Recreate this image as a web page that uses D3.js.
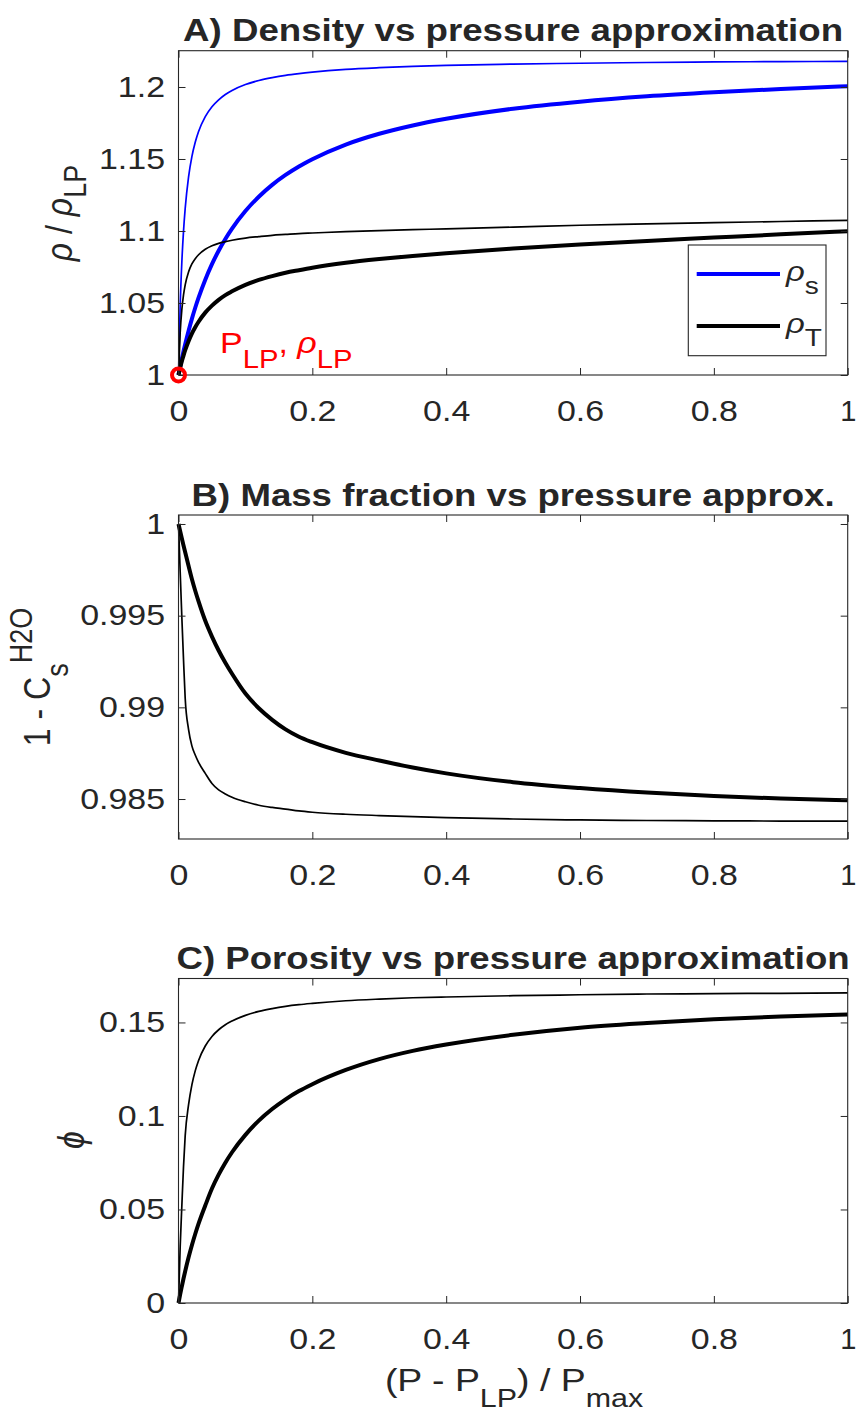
<!DOCTYPE html>
<html>
<head>
<meta charset="utf-8">
<script src="https://cdn.jsdelivr.net/npm/d3@7"></script>
<style>
  body { margin: 0; background: #fff; }
  svg text { font-family: "Liberation Sans", Arial, sans-serif; fill: #262626; }
</style>
</head>
<body>
<div class="chart"></div>
<script>
// x positions shared by every curve, (P - P_LP) / P_max
var xVals = [0, 0.0025, 0.005, 0.0075, 0.01, 0.015, 0.02, 0.025, 0.03, 0.04, 0.05, 0.06, 0.07, 0.08, 0.1,
  0.12, 0.14, 0.16, 0.18, 0.2, 0.25, 0.3, 0.35, 0.4, 0.5, 0.6, 0.7, 0.8, 0.9, 1.0];
var xTicks = [0, 0.2, 0.4, 0.6, 0.8, 1];

// A) density
var rhoS1 = [1, 1.048, 1.0785, 1.0999, 1.1157, 1.1374, 1.1516, 1.1616, 1.1691, 1.1794, 1.1863, 1.1911, 1.1948, 1.1976, 1.2017,
  1.2045, 1.2065, 1.2081, 1.2093, 1.2103, 1.2122, 1.2134, 1.2143, 1.2150, 1.2159, 1.2165, 1.2170, 1.2174, 1.2176, 1.2178];
var rhoS2 = [1, 1.0058, 1.0113, 1.0165, 1.0214, 1.0306, 1.0390, 1.0467, 1.0537, 1.0662, 1.0770, 1.0863, 1.0945, 1.1017, 1.1139,
  1.1238, 1.1320, 1.1389, 1.1448, 1.1498, 1.1600, 1.1675, 1.1733, 1.1779, 1.1849, 1.1898, 1.1935, 1.1963, 1.1986, 1.2005];
var rhoT1 = [1, 1.0294, 1.0455, 1.0556, 1.0626, 1.0715, 1.0771, 1.0808, 1.0835, 1.0873, 1.0897, 1.0914, 1.0926, 1.0936, 1.0951,
  1.0961, 1.0970, 1.0976, 1.0982, 1.0986, 1.0996, 1.1003, 1.1009, 1.1015, 1.1027, 1.1040, 1.1049, 1.1058, 1.1066, 1.1074];
var rhoT2 = [1, 1.0050, 1.0096, 1.0135, 1.0172, 1.0235, 1.0288, 1.0332, 1.0370, 1.0433, 1.0482, 1.0522, 1.0555, 1.0581, 1.0626,
  1.0660, 1.0687, 1.0710, 1.0728, 1.0745, 1.0779, 1.0805, 1.0827, 1.0846, 1.0878, 1.0906, 1.0931, 1.0954, 1.0977, 1.0998];
var yTicksA = [1, 1.05, 1.1, 1.15, 1.2];

// B) mass fraction
var mass1 = [1, 0.9974, 0.9949, 0.9926, 0.9905, 0.9888, 0.9879, 0.9874, 0.9870, 0.9864, 0.98585, 0.98550, 0.98528, 0.98510, 0.98485,
  0.98466, 0.98454, 0.98445, 0.98435, 0.98428, 0.98417, 0.98410, 0.98404, 0.98399, 0.98391, 0.98386, 0.98383, 0.98381, 0.98380, 0.98379];
var mass2 = [1, 0.99960, 0.99921, 0.99883, 0.99846, 0.99772, 0.99700, 0.99636, 0.99578, 0.99472, 0.99386, 0.99310, 0.99243, 0.99183, 0.99075,
  0.98995, 0.98932, 0.98880, 0.98840, 0.98810, 0.98752, 0.98710, 0.98672, 0.98640, 0.98592, 0.98560, 0.98535, 0.98516, 0.98503, 0.98493];
var yTicksB = [0.985, 0.99, 0.995, 1];

// C) porosity
var phi1 = [0, 0.030, 0.052, 0.073, 0.0895, 0.1059, 0.1166, 0.1241, 0.1297, 0.1374, 0.1425, 0.1461, 0.1488, 0.1508, 0.1538,
  0.1559, 0.1574, 0.1586, 0.1595, 0.1602, 0.1616, 0.1625, 0.1632, 0.1636, 0.1643, 0.1648, 0.1652, 0.1654, 0.1656, 0.1658];
var phi2 = [0, 0.0046, 0.0089, 0.0131, 0.0170, 0.0243, 0.0309, 0.0369, 0.0424, 0.0521, 0.0612, 0.0686, 0.0750, 0.0806, 0.0899,
  0.0975, 0.1037, 0.1089, 0.1133, 0.1170, 0.1246, 0.1304, 0.1348, 0.1382, 0.1434, 0.1472, 0.1497, 0.1517, 0.1532, 0.1543];
var yTicksC = [0, 0.05, 0.1, 0.15];

var svgWidth = 856;
var svgHeight = 1416;
var axLeft = 178.5, axRight = 847.7;
var stretch = 1.17;   // the picture is a bit wider than the font
var blue = "#0000ff";
var ink = "#262626";

var svg = d3.select(".chart")
  .append("svg")
  .attr("width", svgWidth)
  .attr("height", svgHeight);

var xScale = d3.scaleLinear().domain([0, 1]).range([axLeft, axRight]);
var fmt = d => String(+d.toFixed(4));

function drawPanel(p) {
  var yScale = d3.scaleLinear().domain(p.domain).range([p.bottom, p.top]);
  var g = svg.append("g");

  // curves
  var line = d3.line()
    .x((d, i) => xScale(xVals[i]))
    .y(d => yScale(d))
    .curve(d3.curveMonotoneX);

  p.series.forEach(function(s) {
    g.append("path")
      .attr("d", line(s.values))
      .attr("fill", "none")
      .attr("stroke", s.color)
      .attr("stroke-width", s.width)
      .attr("stroke-linejoin", "round");
  });

  // axes, ticks inside the box
  var bottomAxis = d3.axisBottom(xScale).tickValues(xTicks).tickFormat(fmt)
    .tickSizeInner(-7).tickSizeOuter(0).tickPadding(25);
  var topAxis = d3.axisTop(xScale).tickValues(xTicks).tickFormat("")
    .tickSizeInner(-7).tickSizeOuter(0);
  var leftAxis = d3.axisLeft(yScale).tickValues(p.ticks).tickFormat(fmt)
    .tickSizeInner(-7).tickSizeOuter(0).tickPadding(13.5);
  var rightAxis = d3.axisRight(yScale).tickValues(p.ticks).tickFormat("")
    .tickSizeInner(-7).tickSizeOuter(0);

  var gb = g.append("g").attr("transform", `translate(0, ${p.bottom})`).call(bottomAxis);
  var gt = g.append("g").attr("transform", `translate(0, ${p.top})`).call(topAxis);
  var gl = g.append("g").attr("transform", `translate(${axLeft}, 0)`).call(leftAxis);
  var gr = g.append("g").attr("transform", `translate(${axRight}, 0)`).call(rightAxis);

  [gb, gt, gl, gr].forEach(function(a) {
    a.select(".domain").remove();
    a.selectAll("line").attr("stroke", ink);
    a.selectAll("text").attr("font-size", 29).attr("fill", ink)
      .attr("font-family", '"Liberation Sans", Arial, sans-serif');
  });
  // stretch the labels like the picture, but keep the last "1" inside the page
  gb.selectAll("text").attr("transform", d => d === 1 ? null : `scale(${stretch},1)`);
  gl.selectAll("text").attr("x", -13.5 / stretch).attr("transform", `scale(${stretch},1)`);

  g.append("rect")
    .attr("x", axLeft).attr("y", p.top)
    .attr("width", axRight - axLeft).attr("height", p.bottom - p.top)
    .attr("fill", "none").attr("stroke", ink).attr("stroke-width", 1.1);

  // title
  g.append("text")
    .attr("x", (axLeft + axRight) / 2)
    .attr("y", p.top - 9.5)
    .attr("text-anchor", "middle")
    .attr("font-size", 31)
    .attr("font-weight", "bold")
    .attr("fill", "#000")
    .attr("textLength", p.titleWidth)
    .attr("lengthAdjust", "spacingAndGlyphs")
    .text(p.title);

  return { g: g, y: yScale };
}

// ---------- A ----------
var A = drawPanel({
  top: 50.7, bottom: 375, domain: [1, 1.2252], ticks: yTicksA,
  title: "A) Density vs pressure approximation", titleWidth: 660,
  series: [
    { values: rhoS1, color: blue, width: 1.7 },
    { values: rhoS2, color: blue, width: 4 },
    { values: rhoT1, color: "#000", width: 1.7 },
    { values: rhoT2, color: "#000", width: 4 }
  ]
});

// y label  rho / rho_LP
var ylA = svg.append("text")
  .attr("transform", `translate(72, 213) rotate(-90) scale(1, ${stretch})`)
  .attr("text-anchor", "middle")
  .attr("font-size", 32);
ylA.append("tspan").attr("font-style", "italic").text("ρ");
ylA.append("tspan").text(" / ");
ylA.append("tspan").attr("font-style", "italic").text("ρ");
ylA.append("tspan").attr("font-size", 27).attr("dy", 12).text("LP");

// legend
var leg = svg.append("g");
leg.append("rect")
  .attr("x", 688.3).attr("y", 245).attr("width", 137.7).attr("height", 110.7)
  .attr("fill", "#fff").attr("stroke", ink).attr("stroke-width", 1.1);
[{ c: blue, y: 274, sub: "s" }, { c: "#000", y: 326, sub: "T" }].forEach(function(e) {
  leg.append("line")
    .attr("x1", 696.7).attr("x2", 780).attr("y1", e.y).attr("y2", e.y)
    .attr("stroke", e.c).attr("stroke-width", 4);
  var t = leg.append("text")
    .attr("transform", `translate(786, ${e.y + 7}) scale(${stretch},1)`)
    .attr("font-size", 28);
  t.append("tspan").attr("font-style", "italic").text("ρ");
  t.append("tspan").attr("font-size", 24).attr("dy", 13).text(e.sub);
});

// red marker at (P_LP, rho_LP)
A.g.append("circle")
  .attr("cx", xScale(0)).attr("cy", A.y(1)).attr("r", 6.5)
  .attr("fill", "none").attr("stroke", "#ff0000").attr("stroke-width", 4);
var ann = A.g.append("text")
  .attr("transform", `translate(220, 353) scale(${stretch},1)`)
  .attr("font-size", 29)
  .style("fill", "#ff0000");
ann.append("tspan").text("P");
ann.append("tspan").attr("font-size", 25).attr("dy", 15).text("LP");
ann.append("tspan").attr("dy", -15).text(", ");
ann.append("tspan").attr("font-style", "italic").text("ρ");
ann.append("tspan").attr("font-size", 25).attr("dy", 15).text("LP");

// ---------- B ----------
drawPanel({
  top: 515, bottom: 839, domain: [0.98282, 1.00049], ticks: yTicksB,
  title: "B) Mass fraction vs pressure approx.", titleWidth: 643,
  series: [
    { values: mass1, color: "#000", width: 1.7 },
    { values: mass2, color: "#000", width: 4 }
  ]
});

var ylB = svg.append("text")
  .attr("transform", `translate(50, 677) rotate(-90) scale(1, ${stretch})`)
  .attr("text-anchor", "middle")
  .attr("font-size", 32);
ylB.append("tspan").text("1 - C");
ylB.append("tspan").attr("font-size", 27).attr("dy", 15).text("s");
ylB.append("tspan").attr("font-size", 27).attr("dy", -30).text("H2O");

// ---------- C ----------
drawPanel({
  top: 978.5, bottom: 1303, domain: [0, 0.1735], ticks: yTicksC,
  title: "C) Porosity vs pressure approximation", titleWidth: 673,
  series: [
    { values: phi1, color: "#000", width: 1.7 },
    { values: phi2, color: "#000", width: 4 }
  ]
});

svg.append("text")
  .attr("transform", `translate(84, 1140) rotate(-90) scale(1, ${stretch})`)
  .attr("text-anchor", "middle")
  .attr("font-size", 32)
  .attr("font-family", '"DejaVu Sans", sans-serif')
  .attr("font-style", "italic")
  .text("ϕ");

// x label
var xl = svg.append("text")
  .attr("transform", `translate(514, 1391) scale(${stretch},1)`)
  .attr("text-anchor", "middle")
  .attr("font-size", 32);
xl.append("tspan").text("(P - P");
xl.append("tspan").attr("font-size", 26).attr("dy", 16).text("LP");
xl.append("tspan").attr("dy", -16).text(") / P");
xl.append("tspan").attr("font-size", 26).attr("dy", 16).text("max");
</script>
</body>
</html>
